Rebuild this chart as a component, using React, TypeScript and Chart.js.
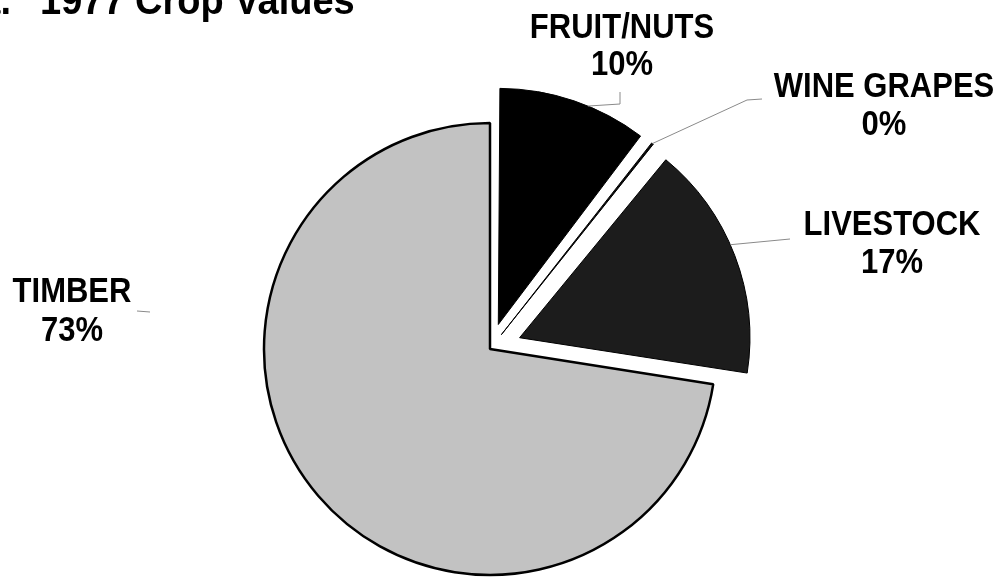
import React, { useEffect, useRef } from "react";
import { Chart, registerables } from "chart.js";

Chart.register(...registerables);

// ---- data ----
const categories = ["FRUIT/NUTS", "WINE GRAPES", "LIVESTOCK", "TIMBER"];
const shareValues = [10.4, 0.5, 16.6, 72.5];
const shareLabels = ["10%", "0%", "17%", "73%"];
const titlePrefix = "a.";
const titleText = "1977 Crop Values";

// ---- styles ----
const sliceColors = ["#000000", "#0a0a0a", "#1c1c1c", "#c2c2c2"];
const borderWidths = [1, 1, 1, 2.5];
const explodePx = [36, 36, 36, 0];
const FONT = "'Liberation Sans', Arial, sans-serif";

// label anchors: center x, first baseline, second baseline
const labelPos = [
  { x: 622, y1: 38, y2: 75 },
  { x: 884, y1: 97, y2: 135 },
  { x: 892, y1: 235, y2: 273 },
  { x: 72, y1: 302, y2: 341 },
];

// leader lines: slice index, fraction along slice for arc-side point, label-side points
const leaders = [
  { idx: 0, frac: 0.6, pts: [[620, 92], [620, 104]] },
  { idx: 1, frac: 0.5, pts: [[762, 99], [747, 100]] },
  { idx: 2, frac: 0.45, pts: [[790, 239]] },
];

function chartOffsets(): number[] {
  const total = shareValues.reduce((a, b) => a + b, 0);
  return shareValues.map((v, i) => {
    const circ = (v / total) * Math.PI * 2;
    const fix = 1 - Math.sin(Math.min(Math.PI, circ));
    const factor = (1 + fix) / 4;
    return explodePx[i] / factor;
  });
}

const overlayPlugin = {
  id: "overlay",
  afterDatasetsDraw(chart: any) {
    const ctx = chart.ctx as CanvasRenderingContext2D;
    const meta = chart.getDatasetMeta(0);
    ctx.save();
    // leader lines
    ctx.strokeStyle = "#8a8a8a";
    ctx.lineWidth = 1;
    leaders.forEach((l) => {
      const arc = meta.data[l.idx];
      const p = arc.getProps(["x", "y", "startAngle", "endAngle", "outerRadius"], true);
      const mid = (p.startAngle + p.endAngle) / 2;
      const d = explodePx[l.idx];
      const cx = p.x + d * Math.cos(mid);
      const cy = p.y + d * Math.sin(mid);
      const a = p.startAngle + (p.endAngle - p.startAngle) * l.frac;
      const ex = cx + p.outerRadius * Math.cos(a);
      const ey = cy + p.outerRadius * Math.sin(a);
      ctx.beginPath();
      ctx.moveTo(l.pts[0][0], l.pts[0][1]);
      for (let k = 1; k < l.pts.length; k++) ctx.lineTo(l.pts[k][0], l.pts[k][1]);
      ctx.lineTo(ex, ey);
      ctx.stroke();
    });
    // timber short dash
    ctx.beginPath();
    ctx.moveTo(137, 311);
    ctx.lineTo(150, 312);
    ctx.stroke();

    // labels
    ctx.fillStyle = "#000";
    ctx.textAlign = "center";
    ctx.textBaseline = "alphabetic";
    ctx.font = `bold 31px ${FONT}`;
    categories.forEach((c, i) => {
      const lp = labelPos[i];
      ctx.save();
      ctx.translate(lp.x, lp.y1);
      ctx.scale(1, 1.12);
      ctx.fillText(c, 0, 0);
      ctx.restore();
      ctx.save();
      ctx.translate(lp.x, lp.y2);
      ctx.scale(1, 1.12);
      ctx.fillText(shareLabels[i], 0, 0);
      ctx.restore();
    });

    // title (top cut off)
    ctx.font = `bold 38px ${FONT}`;
    ctx.textAlign = "right";
    ctx.save();
    ctx.translate(11, 14);
    ctx.scale(1, 1.05);
    ctx.fillText(titlePrefix, 0, 0);
    ctx.restore();
    ctx.textAlign = "left";
    ctx.save();
    ctx.translate(40, 14);
    ctx.scale(1, 1.05);
    ctx.fillText(titleText, 0, 0);
    ctx.restore();
    ctx.restore();
  },
};

export default function App() {
  const ref = useRef<HTMLCanvasElement>(null);
  useEffect(() => {
    if (!ref.current) return;
    const chart = new Chart(ref.current, {
      type: "pie",
      data: {
        labels: categories,
        datasets: [
          {
            data: shareValues,
            backgroundColor: sliceColors,
            borderColor: "#000000",
            borderWidth: borderWidths,
            offset: chartOffsets(),
          },
        ],
      },
      options: {
        responsive: false,
        animation: false,
        devicePixelRatio: 1,
        radius: 226,
        layout: { padding: { left: 0, right: 23, top: 120, bottom: 0 } },
        plugins: {
          legend: { display: false },
          title: { display: false },
          tooltip: { enabled: false },
        },
      } as any,
      plugins: [overlayPlugin],
    });
    return () => chart.destroy();
  }, []);
  return (
    <div style={{ position: "absolute", left: 0, top: 0, width: 1003, height: 578, background: "#fff" }}>
      <canvas ref={ref} width={1003} height={578} style={{ width: 1003, height: 578, display: "block" }} />
    </div>
  );
}
